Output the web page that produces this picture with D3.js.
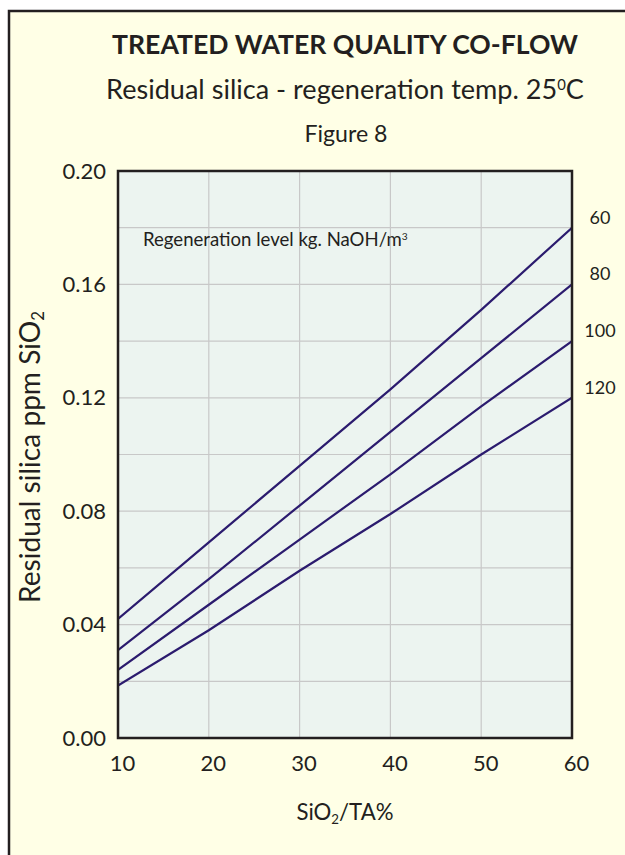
<!DOCTYPE html>
<html><head><meta charset="utf-8">
<script src="https://cdn.jsdelivr.net/npm/d3@7"></script>
<style>html,body{margin:0;padding:0;background:#fff;}svg{display:block;}</style>
</head><body>
<script>
const xValues = [10, 20, 30, 40, 50, 60];
const levels = ["60", "80", "100", "120"];
const level60 = [0.042, 0.069, 0.096, 0.123, 0.151, 0.180];
const level80 = [0.031, 0.056, 0.082, 0.108, 0.134, 0.160];
const level100 = [0.024, 0.047, 0.070, 0.093, 0.117, 0.140];
const level120 = [0.0185, 0.038, 0.059, 0.079, 0.100, 0.120];
const xTicks = [10, 20, 30, 40, 50, 60];
const yTicks = [0.00, 0.04, 0.08, 0.12, 0.16, 0.20];
const yGrid = [0.02, 0.04, 0.06, 0.08, 0.10, 0.12, 0.14, 0.16, 0.18];
const xGrid = [20, 30, 40, 50];

const series = [level60, level80, level100, level120];
const W = 625, H = 855;
const FONT = "Lato, 'Open Sans', sans-serif";
const svg = d3.select("body").append("svg").attr("width", W).attr("height", H);

// outer frame
svg.append("rect").attr("x", 9).attr("y", 11).attr("width", W).attr("height", H).attr("fill", "#FFFFE6");
svg.append("path").attr("d", `M9,${H} L9,11 L${W},11`).attr("fill", "none").attr("stroke", "#231F20").attr("stroke-width", 2.5);

const x = d3.scaleLinear().domain([10, 60]).range([118, 572]);
const y = d3.scaleLinear().domain([0, 0.2]).range([738, 171]);

function fit(sel, target) {
  const base = parseFloat(sel.attr("font-size"));
  const w = sel.node().getComputedTextLength();
  sel.attr("font-size", base * target / w);
}

// titles
const t1 = svg.append("text").attr("x", 345).attr("y", 54).attr("text-anchor", "middle")
  .attr("font-family", FONT).attr("font-weight", "bold").attr("font-size", 22).attr("fill", "#231F20")
  .text("TREATED WATER QUALITY CO-FLOW");
fit(t1, 466);
const t2 = svg.append("text").attr("x", 345).attr("y", 99).attr("text-anchor", "middle")
  .attr("font-family", FONT).attr("font-size", 21).attr("fill", "#231F20");
t2.append("tspan").text("Residual silica - regeneration temp. 25");
t2.append("tspan").attr("font-size", "0.55em").attr("dy", -9).text("0");
t2.append("tspan").attr("dy", 9).text("C");
fit(t2, 478);
const t3 = svg.append("text").attr("x", 346).attr("y", 142).attr("text-anchor", "middle")
  .attr("font-family", FONT).attr("font-size", 17).attr("fill", "#231F20").text("Figure 8");
fit(t3, 83);

// plot background
svg.append("rect").attr("x", x(10)).attr("y", y(0.2)).attr("width", x(60) - x(10)).attr("height", y(0) - y(0.2))
  .attr("fill", "#ECF4F0");

// grid
svg.append("g").selectAll("line").data(yGrid).join("line")
  .attr("x1", x(10)).attr("x2", x(60)).attr("y1", d => y(d)).attr("y2", d => y(d))
  .attr("stroke", "#C8C8C8").attr("stroke-width", 1.2);
svg.append("g").selectAll("line").data(xGrid).join("line")
  .attr("y1", y(0)).attr("y2", y(0.2)).attr("x1", d => x(d)).attr("x2", d => x(d))
  .attr("stroke", "#C8C8C8").attr("stroke-width", 1.2);

// annotation
const ann = svg.append("text").attr("x", 143).attr("y", 246).attr("font-family", FONT).attr("font-size", 13).attr("fill", "#231F20");
ann.append("tspan").text("Regeneration level kg. NaOH/m");
ann.append("tspan").attr("font-size", "0.55em").attr("dy", -6).text("3");
fit(ann, 265);

// lines
const line = d3.line().x((d, i) => x(xValues[i])).y(d => y(d));
svg.append("clipPath").attr("id", "clip").append("rect")
  .attr("x", x(10)).attr("y", y(0.2)).attr("width", x(60) - x(10)).attr("height", y(0) - y(0.2));
svg.append("g").attr("clip-path", "url(#clip)").selectAll("path").data(series).join("path")
  .attr("d", d => line(d)).attr("fill", "none").attr("stroke", "#2B1B6E").attr("stroke-width", 2.2);

// border
svg.append("rect").attr("x", x(10)).attr("y", y(0.2)).attr("width", x(60) - x(10)).attr("height", y(0) - y(0.2))
  .attr("fill", "none").attr("stroke", "#231F20").attr("stroke-width", 2.5);

// axes
const xAxis = d3.axisBottom(x).tickValues(xTicks).tickSize(0).tickPadding(17).tickFormat(d3.format("d"));
const gx = svg.append("g").attr("transform", `translate(0,${y(0)})`).call(xAxis);
gx.attr("font-size", null).attr("font-family", null);
gx.select(".domain").remove();
gx.selectAll("text").attr("font-family", FONT).attr("font-size", 22).attr("fill", "#231F20").attr("dx", 4);

const yAxis = d3.axisLeft(y).tickValues(yTicks).tickSize(0).tickPadding(12).tickFormat(d3.format(".2f"));
const gy = svg.append("g").attr("transform", `translate(${x(10)},0)`).call(yAxis);
gy.attr("font-size", null).attr("font-family", null);
gy.select(".domain").remove();
gy.selectAll("text").attr("font-family", FONT).attr("font-size", 22).attr("fill", "#231F20");

// axis titles
const xt = svg.append("text").attr("x", 345).attr("y", 820).attr("text-anchor", "middle")
  .attr("font-family", FONT).attr("font-size", 17).attr("fill", "#231F20");
xt.append("tspan").text("SiO");
xt.append("tspan").attr("font-size", "0.6em").attr("dy", 4).text("2");
xt.append("tspan").attr("dy", -4).text("/TA%");
fit(xt, 97);

const yt = svg.append("text").attr("transform", "translate(40,457) rotate(-90)").attr("text-anchor", "middle")
  .attr("font-family", FONT).attr("font-size", 19).attr("fill", "#231F20");
yt.append("tspan").text("Residual silica ppm SiO");
yt.append("tspan").attr("font-size", "0.6em").attr("dy", 4).text("2");
fit(yt, 292);

// level labels
svg.append("g").selectAll("text").data(levels).join("text")
  .attr("x", 600).attr("y", (d, i) => y(series[i][series[i].length - 1]) - 4)
  .attr("text-anchor", "middle").attr("font-family", FONT).attr("font-size", 18).attr("fill", "#231F20")
  .text(d => d);
</script>
</body></html>
